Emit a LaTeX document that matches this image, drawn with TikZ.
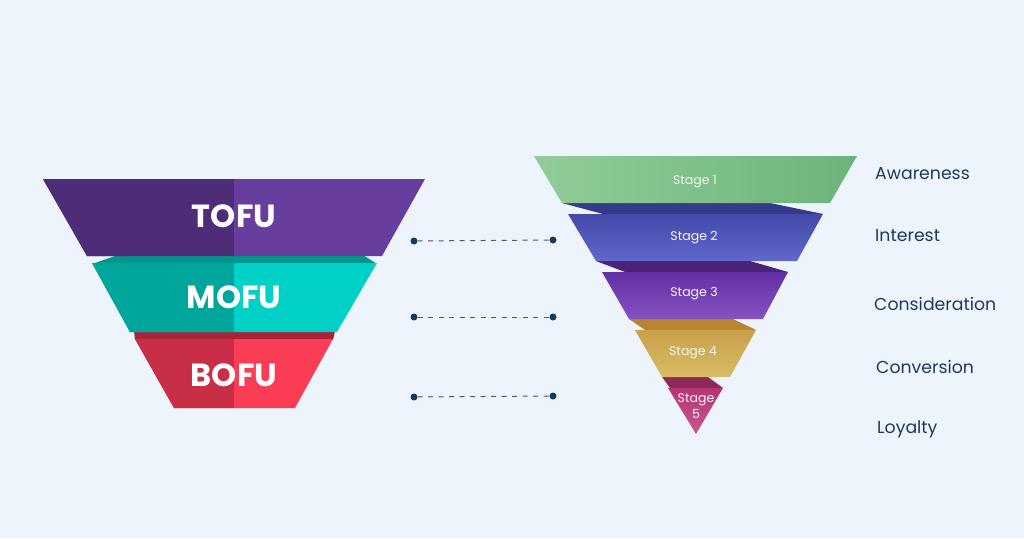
\documentclass[tikz,border=0pt]{standalone}
\usepackage{fontspec}
\setmainfont{Poppins}
\begin{document}
\begin{tikzpicture}[x=1pt,y=-1pt,
  bigtxt/.style={text=white,font=\fontsize{32}{34}\selectfont\bfseries,inner sep=0},
  stagetxt/.style={text=white!94!gray,font=\fontsize{12.5}{14}\selectfont,inner sep=0,align=center},
  lbl/.style={text=labelc,font=\fontsize{17.3}{20}\selectfont,anchor=west,inner sep=0},
  dotnode/.style={circle,fill=dotc,minimum size=7pt,inner sep=0},
  dashline/.style={draw=dashc,line width=1pt,dash pattern=on 5pt off 5.5pt}]
\definecolor{bg}{HTML}{EDF4FC}
\definecolor{labelc}{HTML}{1E3A5C}
\definecolor{dotc}{HTML}{123A62}
\definecolor{dashc}{HTML}{4A5A70}
\definecolor{tofuL}{HTML}{4E2C77}\definecolor{tofuR}{HTML}{673D9E}
\definecolor{mofuL}{HTML}{00A69B}\definecolor{mofuR}{HTML}{00D1C6}\definecolor{mofuB}{HTML}{00968C}
\definecolor{bofuL}{HTML}{C92E47}\definecolor{bofuR}{HTML}{FA3C55}\definecolor{bofuB}{HTML}{A92338}
\definecolor{s1L}{HTML}{91CC99}\definecolor{s1R}{HTML}{6CB47A}
\definecolor{b12}{HTML}{353B8A}\definecolor{s2T}{HTML}{4549A8}\definecolor{s2B}{HTML}{6068CC}
\definecolor{b23}{HTML}{4A2278}\definecolor{s3T}{HTML}{6330A5}\definecolor{s3B}{HTML}{8552C2}
\definecolor{b34}{HTML}{B88530}\definecolor{s4T}{HTML}{C9A048}\definecolor{s4B}{HTML}{D9BC68}
\definecolor{b45}{HTML}{8E2A58}\definecolor{s5T}{HTML}{B53570}\definecolor{s5B}{HTML}{C85890}
\fill[bg] (0,0) rectangle (1024,538);
\useasboundingbox (0,0) rectangle (1024,538);
% ---------- left funnel ----------
\fill[mofuB] (118,255) -- (363,255) -- (377,264) -- (92,264) -- cycle;
\fill[bofuB] (134,331) -- (335,331) -- (333,340) -- (135,340) -- cycle;
% TOFU
\fill[tofuR] (43,179) -- (425,179) -- (382,256) -- (87,256) -- cycle;
\begin{scope}\clip (43,179) -- (425,179) -- (382,256) -- (87,256) -- cycle;
\fill[tofuL] (0,170) rectangle (234,260);\end{scope}
% MOFU
\fill[mofuR] (92,263) -- (377,263) -- (337,332) -- (130,332) -- cycle;
\begin{scope}\clip (92,263) -- (377,263) -- (337,332) -- (130,332) -- cycle;
\fill[mofuL] (0,260) rectangle (234,335);\end{scope}
% BOFU
\fill[bofuR] (135,339) -- (333,339) -- (295,408) -- (174,408) -- cycle;
\begin{scope}\clip (135,339) -- (333,339) -- (295,408) -- (174,408) -- cycle;
\fill[bofuL] (0,336) rectangle (234,410);\end{scope}
\node[bigtxt] (tofu) at (234,216) {TOFU};
\node[bigtxt] (mofu) at (234,297) {MOFU};
\node[bigtxt] (bofu) at (234,375) {BOFU};
% ---------- right funnel ----------
\fill[b12] (562,203) -- (770,203) -- (823,214) -- (603,214) -- cycle;
\fill[b23] (596,261) -- (750,261) -- (788,272) -- (625,272) -- cycle;
\fill[b34] (629,319) -- (733,319) -- (756,330) -- (645,330) -- cycle;
\fill[b45] (662,377) -- (708,377) -- (723,388) -- (670,388) -- cycle;
\shade[left color=s1L,right color=s1R] (534,156) -- (857,156) -- (830,203) -- (562,203) -- cycle;
\shade[top color=s2T,bottom color=s2B] (568,214) -- (823,214) -- (797,261) -- (596,261) -- cycle;
\shade[top color=s3T,bottom color=s3B] (602,272) -- (788,272) -- (763,319) -- (629,319) -- cycle;
\shade[top color=s4T,bottom color=s4B] (635,330) -- (756,330) -- (730,377) -- (662,377) -- cycle;
\shade[top color=s5T,bottom color=s5B] (668,388) -- (723,388) -- (696,434) -- cycle;
\node[stagetxt] (st1) at (695,182) {Stage 1};
\node[stagetxt] (st2) at (694,238) {Stage 2};
\node[stagetxt] (st3) at (694,294) {Stage 3};
\node[stagetxt] (st4) at (693,353) {Stage 4};
\node[stagetxt] (st5) at (696,406) {Stage\\[1.5pt]5};
% ---------- labels ----------
\node[lbl] (aw) at (875,174) {Awareness};
\node[lbl] (in) at (875,236) {Interest};
\node[lbl] (co) at (874,304) {Consideration};
\node[lbl] (cv) at (876,367) {Conversion};
\node[lbl] (lo) at (877,429) {Loyalty};
% ---------- connectors ----------
\node[dotnode] (d1l) at (414,241) {};
\node[dotnode] (d1r) at (553,240) {};
\node[dotnode] (d2l) at (414,317) {};
\node[dotnode] (d2r) at (553,317) {};
\node[dotnode] (d3l) at (414,397) {};
\node[dotnode] (d3r) at (553,396) {};
\draw[dashline] (d1l) -- (d1r);
\draw[dashline] (d2l) -- (d2r);
\draw[dashline] (d3l) -- (d3r);
\end{tikzpicture}
\end{document}
